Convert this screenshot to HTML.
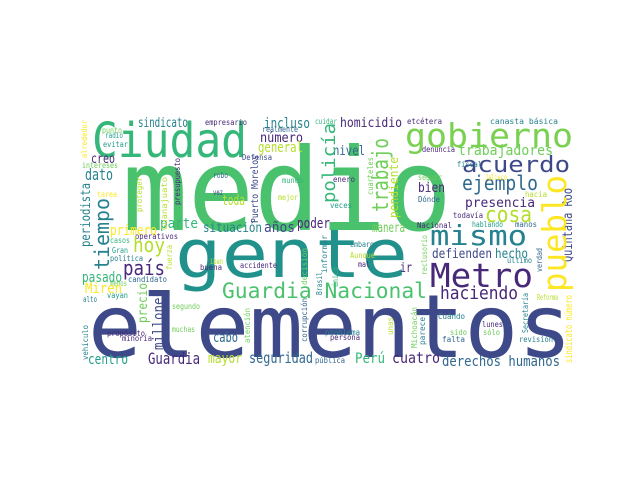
<!DOCTYPE html>
<html><head><meta charset="utf-8">
<style>
html,body{margin:0;padding:0;background:#fff;width:640px;height:480px;overflow:hidden}
svg{display:block}
text{font-family:"DejaVu Sans Mono","Liberation Mono",monospace}
</style></head>
<body>
<svg id="wc" width="640" height="480" viewBox="0 0 640 480"></svg>
<script>
const P="#482878",B="#3e4989",B2="#31688e",T="#26828e",T2="#1f9e89",G="#35b779",G2="#6ece58",Y="#b5de2b",Y2="#fde725",M="#4ac16d";
// [text, x, y(baseline or start), fontSize, color, rotation, length]
const words=[
["elementos",88,357,87,B,0,484],
["medio",122,230,114,M,0,330],
["gente",175,277,67,"#21918c",0,233],
["Ciudad",92,157,48,G,0,155],
["gobierno",405,147,33,"#7ad151",0,168],
["mismo",430,245,28,T,0,97],
["Metro",430,287,33,P,0,103],
["Guardia Nacional",222,298,21,M,0,205],
["haciendo",440,299,18,P,0,78],
["acuerdo",462,172,22,B,0,108],
["ejemplo",462,190,20,B2,0,76],
["trabajadores",458,155,14,G2,0,95],
["cosa",485,222,22,Y,0,47],
["presencia",465,207,13,P,0,70],
["sindicato",138,127,13,T,0,50],
["empresario",205,125,8,P,0,42],
["incluso",264,128,14,T,0,46],
["realmente",262,132,8,B2,0,36],
["punto",102,133,8,G2,0,20],
["radio",105,138,8,T2,0,18],
["evitar",103,147,8,T2,0,25],
["número",260,142,13,P,0,43],
["general",258,152,14,Y,0,45],
["creo",91,163,13,P,0,24],
["Defensa",242,160,8,B,0,30],
["intereses",82,168,8,G2,0,36],
["dato",85,180,16,T,0,28],
["robo",213,178,8,B2,0,15],
["mundo",282,183,8,G,0,21],
["tarea",97,197,8,Y2,0,20],
["vez",213,195,8,B,0,10],
["mejor",278,200,8,Y,0,20],
["toda",222,205,14,Y,0,23],
["parte",160,228,14,G,0,38],
["primero",110,235,14,Y2,0,47],
["situación",203,232,13,T,0,59],
["años",264,232,14,B,0,31],
["poder",297,228,14,P,0,33],
["operativos",135,239,8,P,0,43],
["homicidio",340,127,13,P,0,62],
["etcétera",407,124,8,P,0,35],
["canasta básica",490,124,8,T,0,68],
["cuidar",315,124,8,G,0,22],
["nivel",333,155,13,B2,0,32],
["denuncia",422,152,8,P,0,33],
["fiscal",457,167,8,T,0,25],
["enero",333,182,8,P,0,22],
["seguir",418,180,8,G2,0,24],
["Jalisco",485,180,8,Y2,0,22],
["bien",418,192,13,P,0,27],
["Dónde",418,202,8,B2,0,22],
["hacia",525,197,8,Y,0,22],
["veces",330,208,8,T2,0,22],
["todavía",453,218,8,P,0,30],
["manera",372,232,13,G2,0,33],
["Nacional",417,228,8,P,0,35],
["hablando",472,227,8,T2,0,31],
["manos",515,227,8,B2,0,22],
["hoy",133,252,20,Y,0,32],
["casos",110,243,8,G,0,20],
["Gran",112,253,8,T2,0,16],
["política",110,261,8,T,0,33],
["país",123,275,20,P,0,42],
["iban",210,264,8,Y,0,13],
["buena",200,270,8,P,0,22],
["accidente",240,268,8,P,0,37],
["pasado",82,282,14,G,0,40],
["candidato",128,282,8,B2,0,39],
["menos",110,286,8,G2,0,17],
["Miren",85,293,14,Y2,0,37],
["vayan",107,298,8,T2,0,21],
["alto",83,302,8,T,0,14],
["segundo",172,309,8,G2,0,28],
["muchas",172,332,8,G2,0,23],
["propósito",107,336,8,P,0,38],
["minoría",122,341,8,P,0,30],
["cabo",213,342,14,B2,0,25],
["centro",88,364,14,T2,0,40],
["Guardia",148,364,16,P,0,52],
["mayor",208,363,14,Y,0,34],
["seguridad",249,363,15,B2,0,64],
["embargo",350,247,8,T,0,28],
["Aunque",350,258,8,Y,0,25],
["mal",358,267,8,P,0,12],
["defienden",432,258,13,B,0,60],
["hecho",495,258,13,T,0,33],
["ir",400,272,13,P,0,12],
["último",507,263,8,T,0,25],
["Reforma",537,300,8,Y,0,21],
["Cuándo",438,319,8,T,0,27],
["lunes",482,327,8,P,0,21],
["problema",325,335,8,T,0,35],
["persona",330,340,8,P,0,30],
["sido",450,335,8,G2,0,17],
["sólo",483,335,8,G2,0,17],
["falta",442,342,8,B2,0,23],
["revisión",519,342,8,T,0,34],
["pública",315,363,8,B2,0,30],
["Perú",355,363,14,G,0,30],
["cuatro",392,363,15,P,0,48],
["derechos humanos",442,366,14,B2,0,118],
["alrededor",87,158,8,Y2,-90,38],
["presupuesto",180,205,8,P,-90,47],
["Puerto Morelos",258,223,10,B,-90,68],
["periodista",90,247,13,T,-90,64],
["tiempo",109,270,20,T,-90,72],
["proteger",142,212,8,Y,-90,35],
["Guanajuato",167,230,8,Y,-90,53],
["policía",335,203,18,G,-90,80],
["trabajo",388,212,22,G2,-90,74],
["cuarteles",373,195,8,G2,-90,38],
["pendiente",398,218,12,Y,-90,61],
["Quintana Roo",572,262,13,B,-90,74],
["pueblo",566,292,33,Y2,-90,117],
["fuerza",172,270,8,Y,-90,25],
["decisión",307,285,8,G2,-90,37],
["precio",147,323,13,G2,-90,40],
["millones",163,350,14,B,-90,60],
["corrupción",307,342,8,B2,-90,44],
["atención",250,343,8,G2,-90,35],
["vehículo",88,360,8,T,-90,35],
["informar",327,273,8,T,-90,38],
["único",338,287,8,G,-90,20],
["Brasil",322,295,8,T,-90,23],
["reclusorio",427,275,8,G2,-90,40],
["verdad",542,272,8,B2,-90,24],
["Secretaría",528,333,8,T,-90,40],
["sindicato número",572,363,10,Y2,-90,68],
["Michoacán",417,348,8,G2,-90,41],
["parece",425,345,8,T,-90,28],
["unas",393,335,8,Y,-90,18]
];
const svg=document.getElementById('wc');
const NS="http://www.w3.org/2000/svg";
words.forEach(w=>{
  const t=document.createElementNS(NS,'text');
  
  
  t.setAttribute('x',w[1]);t.setAttribute('y',w[2]);
  t.setAttribute('font-size',w[3]);t.setAttribute('fill',w[4]);
  t.setAttribute('textLength',w[6]);t.setAttribute('lengthAdjust','spacingAndGlyphs');
  if(w[5])t.setAttribute('transform','rotate('+w[5]+' '+w[1]+' '+w[2]+')');
  t.textContent=w[0];
  svg.appendChild(t);
});
</script>
</body></html>
